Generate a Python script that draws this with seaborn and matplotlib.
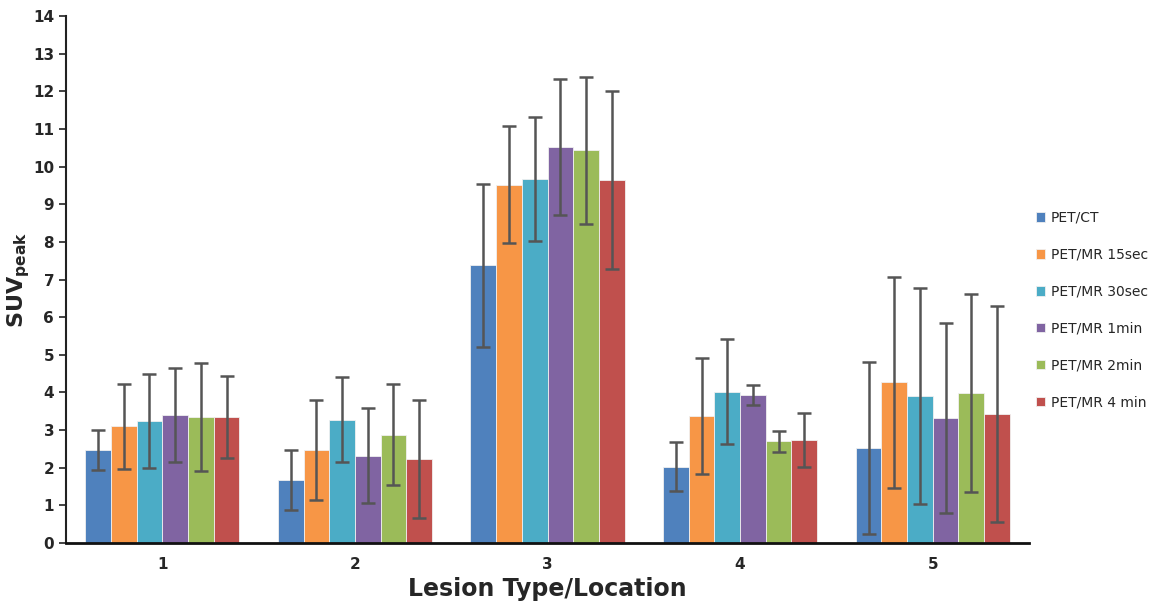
import seaborn as sns
import matplotlib.pyplot as plt
import pandas as pd

groups = ["1", "2", "3", "4", "5"]
methods = ["PET/CT", "PET/MR 15sec", "PET/MR 30sec", "PET/MR 1min", "PET/MR 2min", "PET/MR 4 min"]
colors = ["#4F81BD", "#F79646", "#4BACC6", "#8064A2", "#9BBB59", "#C0504D"]

# mean SUVpeak per group, one list per method
pet_ct = [2.47, 1.67, 7.38, 2.02, 2.52]
mr_15s = [3.10, 2.47, 9.52, 3.37, 4.27]
mr_30s = [3.25, 3.27, 9.66, 4.02, 3.91]
mr_1m = [3.40, 2.32, 10.52, 3.93, 3.33]
mr_2m = [3.35, 2.88, 10.43, 2.70, 3.98]
mr_4m = [3.35, 2.23, 9.64, 2.74, 3.42]

# standard deviations
sd_ct = [0.52, 0.80, 2.17, 0.65, 2.28]
sd_15s = [1.13, 1.32, 1.55, 1.55, 2.80]
sd_30s = [1.25, 1.13, 1.65, 1.40, 2.87]
sd_1m = [1.24, 1.27, 1.80, 0.27, 2.52]
sd_2m = [1.43, 1.35, 1.96, 0.27, 2.63]
sd_4m = [1.08, 1.57, 2.36, 0.72, 2.87]

means = [pet_ct, mr_15s, mr_30s, mr_1m, mr_2m, mr_4m]
sds = [sd_ct, sd_15s, sd_30s, sd_1m, sd_2m, sd_4m]

rows = []
for m, vals, errs in zip(methods, means, sds):
    for g, v, e in zip(groups, vals, errs):
        rows.append({"group": g, "method": m, "suv": v, "sd": e})
df = pd.DataFrame(rows)

sns.set_style("white")
fig = plt.figure(figsize=(11.52, 6.02), dpi=100)
ax = fig.add_axes([66 / 1152, 59 / 602, 963 / 1152, 527 / 602])

sns.barplot(data=df, x="group", y="suv", hue="method", palette=colors,
            order=groups, hue_order=methods, errorbar=None, width=0.8,
            edgecolor="#f0f0f0", linewidth=0.6, saturation=1, ax=ax)

# custom error bars at each bar centre
for container, m in zip(ax.containers, methods):
    sub = df[df["method"] == m].set_index("group").loc[groups]
    xs = [p.get_x() + p.get_width() / 2 for p in container.patches]
    ax.errorbar(xs, sub["suv"], yerr=sub["sd"], fmt="none", ecolor="#555555",
                elinewidth=1.8, capsize=5, capthick=1.8, zorder=3)

ax.set_ylim(0, 14)
ax.set_yticks(range(0, 15))
ax.set_xlim(-0.5, 4.5)
for lbl in ax.get_yticklabels() + ax.get_xticklabels():
    lbl.set_fontweight("bold")
    lbl.set_fontsize(11)
ax.tick_params(axis="y", direction="out", length=5, width=1.2, left=True, color="#222222")
ax.tick_params(axis="x", length=0, pad=10)

sns.despine(ax=ax)
ax.spines["left"].set_linewidth(1.5)
ax.spines["bottom"].set_linewidth(2)
ax.spines["left"].set_color("#222222")
ax.spines["bottom"].set_color("#111111")

ax.set_xlabel("Lesion Type/Location", fontsize=17, fontweight="bold", labelpad=4)
ax.set_ylabel(r"$\mathbf{SUV_{peak}}$", fontsize=16)
ax.yaxis.set_label_coords(-0.035, 0.5)

leg = ax.legend(loc="center left", bbox_to_anchor=(1030 / 1152, 292 / 602),
                bbox_transform=fig.transFigure, frameon=False,
                fontsize=10, handlelength=0.7, handleheight=0.7,
                handletextpad=0.4, labelspacing=1.65, borderaxespad=0)

fig.savefig("out.png", dpi=100)
